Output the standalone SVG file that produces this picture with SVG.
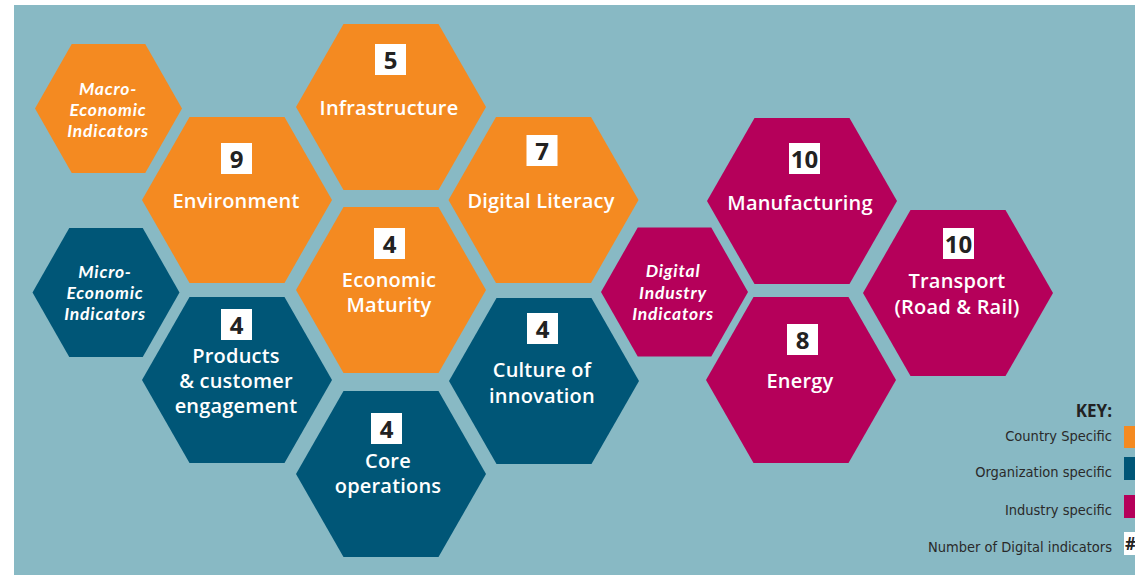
<svg xmlns="http://www.w3.org/2000/svg" xmlns:xlink="http://www.w3.org/1999/xlink" width="1135" height="575" viewBox="0 0 1135 575">
  <style>
    .bg { fill: #88b9c4; }
    .orange { fill: #f48a21; }
    .blue { fill: #005677; }
    .mag { fill: #b5005a; }
    .lbl { font-family: "Open Sans", "Liberation Sans", sans-serif; font-weight: 600; font-size: 20px; letter-spacing: 0.2px; fill: #ffffff; text-anchor: middle; }
    .ital { font-family: Lato, "Liberation Sans", sans-serif; font-weight: 700; font-style: italic; font-size: 17.5px; letter-spacing: 0.8px; fill: #ffffff; text-anchor: middle; }
    .numbox { fill: #ffffff; }
    .num { font-family: "Open Sans", "Liberation Sans", sans-serif; font-weight: 700; font-size: 24px; fill: #222222; text-anchor: middle; }
    .key { font-family: "DejaVu Sans Condensed", "DejaVu Sans", sans-serif; font-stretch: condensed; font-size: 14.5px; fill: #2a2a2a; text-anchor: end; }
    .keyh { font-family: "Open Sans", "Liberation Sans", sans-serif; font-weight: 700; font-size: 17px; fill: #222222; text-anchor: end; }
  </style>
  <defs>
    <polygon id="hexL" points="-95,0 -47.5,-83 47.5,-83 95,0 47.5,83 -47.5,83"/>
    <polygon id="hexS" points="-73.5,0 -36.75,-64.5 36.75,-64.5 73.5,0 36.75,64.5 -36.75,64.5"/>
    <rect id="nb" x="-15.5" y="0" width="31" height="31"/>
  </defs>

  <rect class="bg" x="14" y="5" width="1121" height="570"/>

  <g id="connectors"></g>

  <g id="macro">
    <use xlink:href="#hexS" class="orange" transform="translate(108.5,108.5)"/>
    <text class="ital" x="108" y="95">Macro-</text>
    <text class="ital" x="108" y="116">Economic</text>
    <text class="ital" x="108" y="137">Indicators</text>
  </g>

  <g id="infrastructure">
    <use xlink:href="#hexL" class="orange" transform="translate(391,107)"/>
    <use xlink:href="#nb" class="numbox" transform="translate(390.5,44)"/>
    <text class="num" x="390.5" y="68.5">5</text>
    <text class="lbl" x="389" y="115">Infrastructure</text>
  </g>

  <g id="environment">
    <use xlink:href="#hexL" class="orange" transform="translate(237,200)"/>
    <use xlink:href="#nb" class="numbox" transform="translate(236.5,143)"/>
    <text class="num" x="236.5" y="167.5">9</text>
    <text class="lbl" x="236" y="208">Environment</text>
  </g>

  <g id="digital-literacy">
    <use xlink:href="#hexL" class="orange" transform="translate(543.5,200)"/>
    <use xlink:href="#nb" class="numbox" transform="translate(542,135)"/>
    <text class="num" x="542" y="159.5">7</text>
    <text class="lbl" x="541" y="208">Digital Literacy</text>
  </g>

  <g id="economic-maturity">
    <use xlink:href="#hexL" class="orange" transform="translate(391,290)"/>
    <use xlink:href="#nb" class="numbox" transform="translate(389.5,228)"/>
    <text class="num" x="389.5" y="252.5">4</text>
    <text class="lbl" x="389" y="287">Economic</text>
    <text class="lbl" x="389" y="312">Maturity</text>
  </g>

  <g id="micro">
    <use xlink:href="#hexS" class="blue" transform="translate(106,292.5)"/>
    <text class="ital" x="105" y="278">Micro-</text>
    <text class="ital" x="105" y="299">Economic</text>
    <text class="ital" x="105" y="320">Indicators</text>
  </g>

  <g id="products">
    <use xlink:href="#hexL" class="blue" transform="translate(237,380)"/>
    <use xlink:href="#nb" class="numbox" transform="translate(236.5,309)"/>
    <text class="num" x="236.5" y="333.5">4</text>
    <text class="lbl" x="236" y="363">Products</text>
    <text class="lbl" x="236" y="388">&amp; customer</text>
    <text class="lbl" x="236" y="413">engagement</text>
  </g>

  <g id="culture">
    <use xlink:href="#hexL" class="blue" transform="translate(544,381)"/>
    <use xlink:href="#nb" class="numbox" transform="translate(542.5,313)"/>
    <text class="num" x="542.5" y="337.5">4</text>
    <text class="lbl" x="542" y="377">Culture of</text>
    <text class="lbl" x="542" y="403">innovation</text>
  </g>

  <g id="core">
    <use xlink:href="#hexL" class="blue" transform="translate(391,474)"/>
    <use xlink:href="#nb" class="numbox" transform="translate(386.5,413)"/>
    <text class="num" x="386.5" y="437.5">4</text>
    <text class="lbl" x="388" y="468">Core</text>
    <text class="lbl" x="388" y="493">operations</text>
  </g>

  <g id="digital-industry">
    <use xlink:href="#hexS" class="mag" transform="translate(674.5,292)"/>
    <text class="ital" x="673" y="277">Digital</text>
    <text class="ital" x="673" y="299">Industry</text>
    <text class="ital" x="673" y="320">Indicators</text>
  </g>

  <g id="manufacturing">
    <use xlink:href="#hexL" class="mag" transform="translate(802,201)"/>
    <use xlink:href="#nb" class="numbox" transform="translate(804.5,143)"/>
    <text class="num" x="804.5" y="167.5">10</text>
    <text class="lbl" x="800" y="210">Manufacturing</text>
  </g>

  <g id="energy">
    <use xlink:href="#hexL" class="mag" transform="translate(801,380)"/>
    <use xlink:href="#nb" class="numbox" transform="translate(802.5,324)"/>
    <text class="num" x="802.5" y="348.5">8</text>
    <text class="lbl" x="800" y="388">Energy</text>
  </g>

  <g id="transport">
    <use xlink:href="#hexL" class="mag" transform="translate(958,293)"/>
    <use xlink:href="#nb" class="numbox" transform="translate(958.5,228)"/>
    <text class="num" x="958.5" y="252.5">10</text>
    <text class="lbl" x="957" y="288">Transport</text>
    <text class="lbl" x="957" y="314">(Road &amp; Rail)</text>
  </g>

  <g id="key">
    <text class="keyh" x="1112" y="417">KEY:</text>
    <text class="key" x="1112" y="441">Country Specific</text>
    <rect class="orange" x="1124" y="426" width="11" height="22"/>
    <text class="key" x="1112" y="477">Organization specific</text>
    <rect class="blue" x="1124" y="457" width="11" height="23"/>
    <text class="key" x="1112" y="515">Industry specific</text>
    <rect class="mag" x="1124" y="495" width="11" height="23"/>
    <text class="key" x="1112" y="552">Number of Digital indicators</text>
    <rect class="numbox" x="1124" y="532" width="11" height="23"/>
    <text x="1125" y="550" style="font-family: 'Open Sans', 'Liberation Sans', sans-serif; font-weight: 700; font-size: 17px; fill: #222222;">#</text>
  </g>
</svg>
